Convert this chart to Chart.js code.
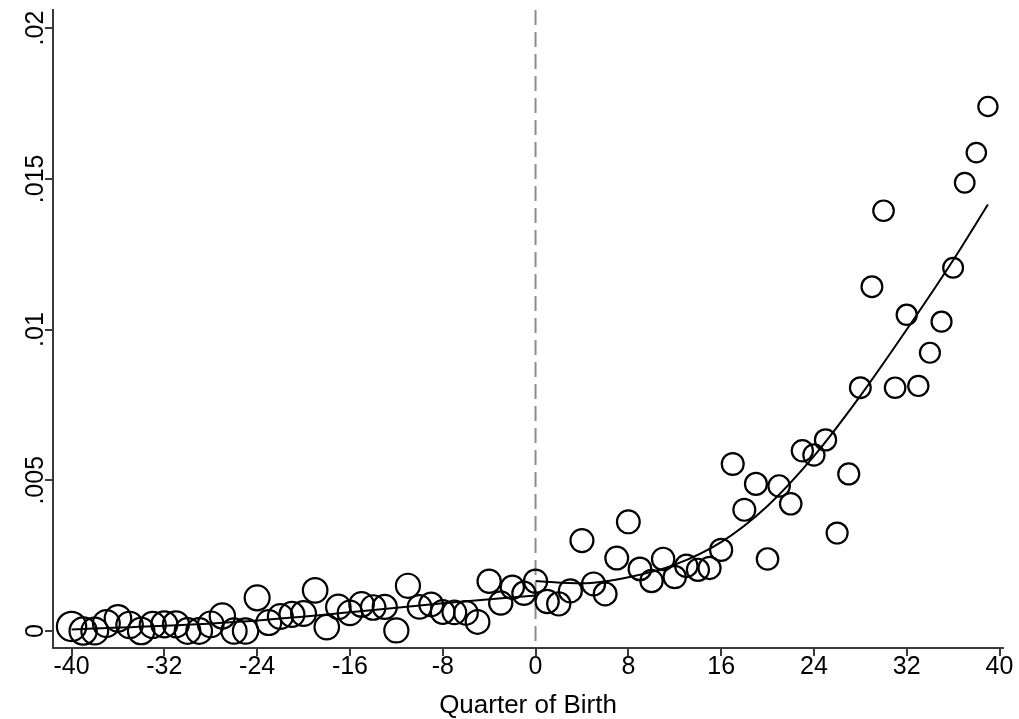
<!DOCTYPE html>
<html>
<head>
<meta charset="utf-8">
<script src="https://cdn.jsdelivr.net/npm/chart.js@4.4.1/dist/chart.umd.min.js"></script>
<style>
    html, body { margin: 0; padding: 0; background: #fff; }
    #wrap { width: 1019px; height: 719px; }
</style>
</head>
<body>
<div id="wrap"><canvas id="rd-chart" width="1019" height="719"></canvas></div>
<script>
// Data
const quarters = [
    -40, -39, -38, -37, -36, -35, -34, -33, -32, -31,
    -30, -29, -28, -27, -26, -25, -24, -23, -22, -21,
    -20, -19, -18, -17, -16, -15, -14, -13, -12, -11,
    -10, -9, -8, -7, -6, -5, -4, -3, -2, -1,
    0, 1, 2, 3, 4, 5, 6, 7, 8, 9,
    10, 11, 12, 13, 14, 15, 16, 17, 18, 19,
    20, 21, 22, 23, 24, 25, 26, 27, 28, 29,
    30, 31, 32, 33, 34, 35, 36, 37, 38, 39
];
const shareValues = [
    0.00015, 0.00000, 0.00000, 0.00025, 0.00042, 0.00020, 0.00000, 0.00020, 0.00022, 0.00022,
    0.00000, 0.00000, 0.00022, 0.00050, 0.00000, 0.00000, 0.00110, 0.00028, 0.00048, 0.00055,
    0.00058, 0.00135, 0.00013, 0.00080, 0.00060, 0.00088, 0.00078, 0.00080, 0.00002, 0.00150,
    0.00080, 0.00088, 0.00063, 0.00062, 0.00060, 0.00030, 0.00165, 0.00093, 0.00145, 0.00125,
    0.00165, 0.00098, 0.00090, 0.00133, 0.00300, 0.00156, 0.00123, 0.00242, 0.00362, 0.00206,
    0.00166, 0.00239, 0.00179, 0.00216, 0.00203, 0.00209, 0.00269, 0.00554, 0.00402, 0.00488,
    0.00239, 0.00481, 0.00422, 0.00598, 0.00584, 0.00634, 0.00325, 0.00521, 0.00807, 0.01142,
    0.01394, 0.00807, 0.01049, 0.00813, 0.00923, 0.01026, 0.01205, 0.01487, 0.01587, 0.01740
];
// relative cell weights (marker area)
const cellWeight = [
    215, 185, 180, 180, 175, 175, 175, 170, 170, 170,
    165, 165, 165, 160, 160, 160, 155, 155, 155, 155,
    155, 150, 150, 150, 150, 150, 150, 145, 145, 145,
    140, 140, 140, 140, 140, 140, 135, 135, 135, 135,
    135, 135, 135, 132, 132, 132, 130, 130, 130, 128,
    125, 125, 125, 125, 122, 122, 122, 120, 120, 120,
    115, 115, 115, 112, 112, 112, 110, 110, 108, 108,
    105, 105, 102, 102, 100, 100, 98, 96, 94, 92
];
const leftFitX = [-40, -32, -24, -16, -8, 0];
const leftFitY = [0.00005, 0.00017, 0.00035, 0.00062, 0.00092, 0.00118];
const rightFitX = [0, 4, 8, 12, 16, 20, 24, 28, 32, 36, 39];
const rightFitY = [0.00166, 0.00158, 0.00178, 0.00220, 0.00295, 0.00415, 0.00580, 0.00780, 0.01000, 0.01230, 0.01415];

const xTickValues = [-40, -32, -24, -16, -8, 0, 8, 16, 24, 32, 40];
const yTickValues = [0, 0.005, 0.01, 0.015, 0.02];
const yTickLabels = ['0', '.005', '.01', '.015', '.02'];
const xAxisTitle = 'Quarter of Birth';
const cutoffQuarter = 0;

const FONT = '"Liberation Sans", Arial, Helvetica, sans-serif';
const AXIS_COLOR = '#3a3a3a';

const scatterPoints = quarters.map((q, i) => ({ x: q, y: shareValues[i] }));
const leftFit = leftFitX.map((q, i) => ({ x: q, y: leftFitY[i] }));
const rightFit = rightFitX.map((q, i) => ({ x: q, y: rightFitY[i] }));

// dashed cutoff line + rotated y labels
const stataExtras = {
    id: 'stataExtras',
    beforeDatasetsDraw(chart) {
        const { ctx, chartArea, scales } = chart;
        const x = scales.x.getPixelForValue(cutoffQuarter);
        ctx.save();
        ctx.strokeStyle = '#8c8c8c';
        ctx.lineWidth = 2;
        ctx.setLineDash([15, 7]);
        ctx.beginPath();
        ctx.moveTo(x, chartArea.top);
        ctx.lineTo(x, chartArea.bottom);
        ctx.stroke();
        ctx.restore();
    },
    afterDraw(chart) {
        const { ctx, scales } = chart;
        ctx.save();
        ctx.fillStyle = '#000';
        ctx.font = '25px ' + FONT;
        ctx.textAlign = 'center';
        ctx.textBaseline = 'alphabetic';
        yTickValues.forEach((v, i) => {
            const y = scales.y.getPixelForValue(v);
            ctx.save();
            ctx.translate(43, y);
            ctx.rotate(-Math.PI / 2);
            ctx.fillText(yTickLabels[i], 0, 0);
            ctx.restore();
        });
        ctx.restore();
    }
};

const ctx = document.getElementById('rd-chart').getContext('2d');
new Chart(ctx, {
    type: 'scatter',
    data: {
        datasets: [
            {
                label: 'share',
                data: scatterPoints,
                showLine: false,
                pointStyle: 'circle',
                pointRadius: c => Math.sqrt(cellWeight[c.dataIndex]),
                pointBorderColor: '#000',
                pointBackgroundColor: 'rgba(0,0,0,0)',
                pointBorderWidth: 2.2,
                clip: false,
            },
            {
                label: 'fit left',
                data: leftFit,
                showLine: true,
                borderColor: '#000',
                borderWidth: 2,
                pointRadius: 0,
                cubicInterpolationMode: 'monotone',
                fill: false,
            },
            {
                label: 'fit right',
                data: rightFit,
                showLine: true,
                borderColor: '#000',
                borderWidth: 2,
                pointRadius: 0,
                cubicInterpolationMode: 'monotone',
                fill: false,
            }
        ]
    },
    options: {
        responsive: false,
        animation: false,
        layout: { autoPadding: false, padding: { top: 10, right: 16, left: 0, bottom: 0 } },
        plugins: {
            legend: { display: false },
            tooltip: { enabled: false }
        },
        scales: {
            x: {
                type: 'linear',
                min: -41.6,
                max: 40.3,
                afterBuildTicks: s => { s.ticks = xTickValues.map(v => ({ value: v })); },
                afterFit: s => { s.height = 71; },
                grid: {
                    drawOnChartArea: false,
                    drawTicks: true,
                    tickLength: 8,
                    color: AXIS_COLOR,
                    lineWidth: 2
                },
                border: { display: true, color: AXIS_COLOR, width: 2 },
                ticks: {
                    color: '#000',
                    font: { family: FONT, size: 25 },
                    padding: -4,
                    maxRotation: 0,
                    autoSkip: false
                },
                title: {
                    display: true,
                    text: xAxisTitle,
                    color: '#000',
                    font: { family: FONT, size: 26 },
                    padding: { top: 0, bottom: -2 }
                }
            },
            y: {
                type: 'linear',
                min: -0.000564,
                max: 0.0206,
                afterBuildTicks: s => { s.ticks = yTickValues.map(v => ({ value: v })); },
                afterFit: s => { s.width = 53; },
                grid: {
                    drawOnChartArea: false,
                    drawTicks: true,
                    tickLength: 8,
                    color: AXIS_COLOR,
                    lineWidth: 2
                },
                border: { display: true, color: AXIS_COLOR, width: 2 },
                ticks: { display: false }
            }
        }
    },
    plugins: [stataExtras]
});
</script>
</body>
</html>
